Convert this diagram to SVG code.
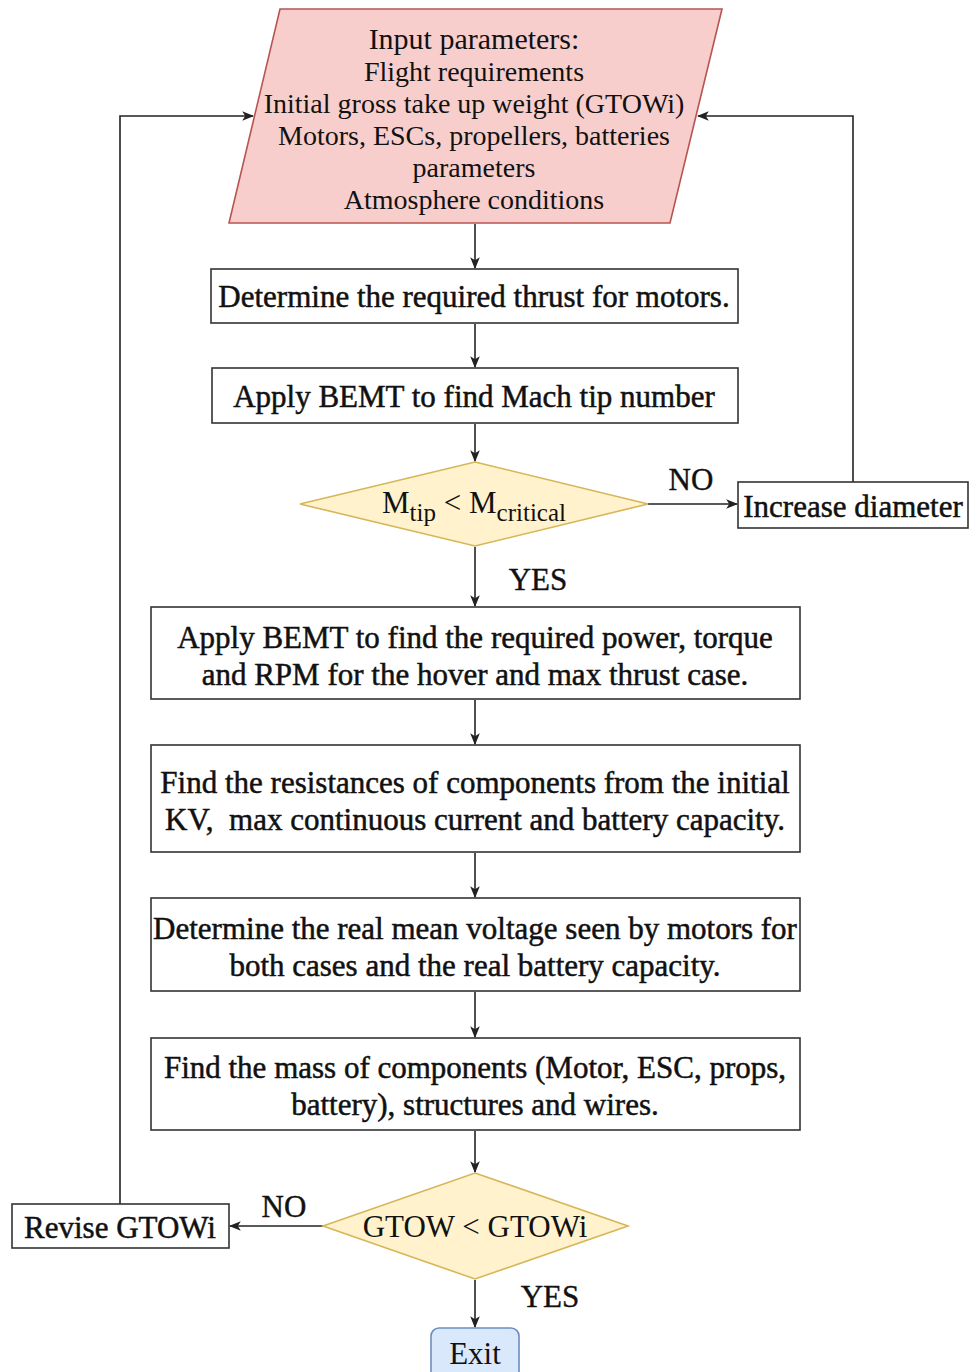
<svg xmlns="http://www.w3.org/2000/svg" width="969" height="1372" viewBox="0 0 969 1372">
  <style>
    .box { fill: #ffffff; stroke: #333333; stroke-width: 1.6; }
    .io { fill: #f8cecc; stroke: #b85450; stroke-width: 1.6; }
    .dec { fill: #fff2cc; stroke: #d6b656; stroke-width: 1.6; }
    .term { fill: #dae8fc; stroke: #6c8ebf; stroke-width: 1.6; }
    .t { font-family: "Liberation Serif", "Times New Roman", serif; fill: #111111; text-anchor: middle; }
    .heavy { stroke: #111111; stroke-width: 0.5; }
    .s31 { font-size: 31px; }
    .s30 { font-size: 30px; }
    .s28 { font-size: 28px; }
    .lbl { font-family: "Liberation Serif", "Times New Roman", serif; font-size: 31px; fill: #111111; text-anchor: middle; stroke: #111111; stroke-width: 0.4; }
    .edge { fill: none; stroke: #222222; stroke-width: 1.6; marker-end: url(#arrow); }
  </style>
  <defs>
    <marker id="arrow" viewBox="0 0 10 10" refX="9" refY="5" markerWidth="12" markerHeight="12" orient="auto" markerUnits="userSpaceOnUse">
      <path d="M0,1 L10,5 L0,9 L2.5,5 Z" fill="#222222"/>
    </marker>
  </defs>

  <rect width="969" height="1372" fill="#ffffff"/>

  <!-- connectors -->
  <g id="connectors">
    <path class="edge" d="M475,224 L475,268"/>
    <path class="edge" d="M475,324 L475,367"/>
    <path class="edge" d="M475,424 L475,461"/>
    <path class="edge" d="M648,504 L737,504"/>
    <path class="edge" d="M853,482 L853,116 L698,116"/>
    <path class="edge" d="M475,547 L475,606"/>
    <path class="edge" d="M475,700 L475,744"/>
    <path class="edge" d="M475,853 L475,897"/>
    <path class="edge" d="M475,992 L475,1037"/>
    <path class="edge" d="M475,1131 L475,1172"/>
    <path class="edge" d="M323,1226 L230,1226"/>
    <path class="edge" d="M120,1204 L120,116 L253,116"/>
    <path class="edge" d="M475,1280 L475,1327"/>
    <text class="lbl" x="691" y="490">NO</text>
    <text class="lbl" x="538" y="590">YES</text>
    <text class="lbl" x="284" y="1217">NO</text>
    <text class="lbl" x="550" y="1307">YES</text>
  </g>

  <g id="input">
    <polygon class="io" points="280,9 722,9 670,223 229,223"/>
    <text class="t s30" x="474" y="49">Input parameters:</text>
    <text class="t s28" x="474" y="81">Flight requirements</text>
    <text class="t s28" x="474" y="113">Initial gross take up weight (GTOWi)</text>
    <text class="t s28" x="474" y="145">Motors, ESCs, propellers, batteries</text>
    <text class="t s28" x="474" y="177">parameters</text>
    <text class="t s28" x="474" y="209">Atmosphere conditions</text>
  </g>

  <g id="thrust">
    <rect class="box" x="211" y="269" width="527" height="54"/>
    <text class="t heavy s31" x="474" y="307">Determine the required thrust for motors.</text>
  </g>

  <g id="mach">
    <rect class="box" x="212" y="368" width="526" height="55"/>
    <text class="t heavy s31" x="474" y="407">Apply BEMT to find Mach tip number</text>
  </g>

  <g id="mach-check">
    <polygon class="dec" points="475,462 648,504 475,546 300,504"/>
    <text class="t s31" x="474" y="513" fill="#222222">M<tspan font-size="25" dy="8">tip</tspan><tspan dy="-8"> &lt; M</tspan><tspan font-size="25" dy="8">critical</tspan></text>
  </g>

  <g id="increase-diameter">
    <rect class="box" x="738" y="482" width="230" height="46"/>
    <text class="t heavy s31" x="853" y="517">Increase diameter</text>
  </g>

  <g id="power">
    <rect class="box" x="151" y="607" width="649" height="92"/>
    <text class="t heavy s31" x="475" y="648">Apply BEMT to find the required power, torque</text>
    <text class="t heavy s31" x="475" y="685">and RPM for the hover and max thrust case.</text>
  </g>

  <g id="resistances">
    <rect class="box" x="151" y="745" width="649" height="107"/>
    <text class="t heavy s31" x="475" y="793">Find the resistances of components from the initial</text>
    <text class="t heavy s31" x="475" y="830" xml:space="preserve">KV,  max continuous current and battery capacity.</text>
  </g>

  <g id="voltage">
    <rect class="box" x="151" y="898" width="649" height="93"/>
    <text class="t heavy s31" x="475" y="939">Determine the real mean voltage seen by motors for</text>
    <text class="t heavy s31" x="475" y="976">both cases and the real battery capacity.</text>
  </g>

  <g id="mass">
    <rect class="box" x="151" y="1038" width="649" height="92"/>
    <text class="t heavy s31" x="475" y="1078">Find the mass of components (Motor, ESC, props,</text>
    <text class="t heavy s31" x="475" y="1115">battery), structures and wires.</text>
  </g>

  <g id="gtow-check">
    <polygon class="dec" points="475,1173 628,1226 475,1279 323,1226"/>
    <text class="t s31" x="475" y="1237" fill="#222222">GTOW &lt; GTOWi</text>
  </g>

  <g id="revise">
    <rect class="box" x="12" y="1204" width="217" height="44"/>
    <text class="t heavy s31" x="120" y="1238">Revise GTOWi</text>
  </g>

  <g id="exit">
    <rect class="term" x="431" y="1328" width="88" height="52" rx="8"/>
    <text class="t s31" x="475" y="1364">Exit</text>
  </g>
</svg>
